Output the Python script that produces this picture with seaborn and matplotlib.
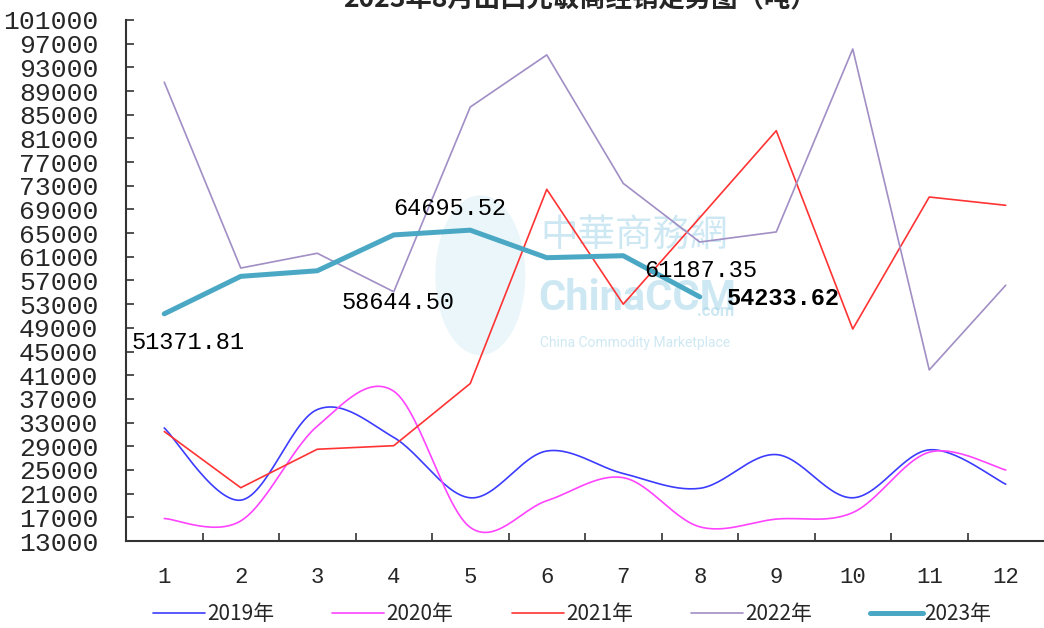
import numpy as np
import pandas as pd
import seaborn as sns
import matplotlib.pyplot as plt
from matplotlib.patches import Ellipse

months = list(range(1, 13))
y2019 = [32100, 19900, 35200, 30500, 20300, 28200, 24400, 21900, 27600, 20300, 28400, 22600]
y2020 = [16800, 16400, 32400, 38300, 15300, 19800, 23700, 15400, 16700, 17800, 28000, 25000]
y2021 = [31500, 22000, 28500, 29100, 39600, 72400, 53000, 67600, 82300, 48800, 71100, 69700]
y2022 = [90500, 59100, 61600, 55100, 86300, 95100, 73400, 63500, 65200, 96100, 41900, 56200]
months_2023 = [1, 2, 3, 4, 5, 6, 7, 8]
y2023 = [51371.81, 57700, 58644.50, 64695.52, 65500, 60850, 61187.35, 54233.62]

# which 2023 points carry a label, and the label offset (points)
label_idx = [0, 2, 3, 6, 7]
label_off = [(17, -21), (58, -23), (40, 19), (56, -11), (60, -1)]
label_bold = [False, False, False, False, True]

legend_names = ['2019年', '2020年', '2021年', '2022年', '2023年']
colors = ['#3c3cff', '#ff44ff', '#ff3333', '#a08ec4', '#4aa8c4']


def smooth(x, y, n=30):
    # excel-like smoothed line (catmull-rom through the points)
    x = np.asarray(x, float)
    y = np.asarray(y, float)
    px = np.concatenate([[x[0]], x, [x[-1]]])
    py = np.concatenate([[y[0]], y, [y[-1]]])
    xs, ys = [], []
    t = np.linspace(0, 1, n)
    for i in range(1, len(px) - 2):
        p0 = np.array([px[i], py[i]])
        p3 = np.array([px[i + 1], py[i + 1]])
        c1 = p0 + (np.array([px[i + 1], py[i + 1]]) - np.array([px[i - 1], py[i - 1]])) / 6
        c2 = p3 - (np.array([px[i + 2], py[i + 2]]) - np.array([px[i], py[i]])) / 6
        pts = ((1 - t) ** 3)[:, None] * p0 + (3 * (1 - t) ** 2 * t)[:, None] * c1 \
            + (3 * (1 - t) * t ** 2)[:, None] * c2 + (t ** 3)[:, None] * p3
        xs.extend(pts[:, 0])
        ys.extend(pts[:, 1])
    return xs, ys


sns.set_style('white')
plt.rcParams['font.family'] = ['Liberation Mono', 'Noto Sans CJK SC']

fig = plt.figure(figsize=(10.44, 6.28), dpi=100)
ax = fig.add_axes([0.1207, 0.1385, 0.8793, 0.8297])

# watermark (chinaccm logo)
ax.add_patch(Ellipse((0.386, 0.51), 0.098, 0.307, transform=ax.transAxes,
                     facecolor='#c6e6f2', edgecolor='none', alpha=0.35, zorder=0))
wm = '#9fd3e8'
ax.text(0.451, 0.587, '中華商務網', transform=ax.transAxes, fontsize=27, color=wm,
        alpha=0.5, ha='left', va='center', family='Noto Sans CJK SC', zorder=0)
ax.text(0.449, 0.466, 'ChinaCCM', transform=ax.transAxes, fontsize=30, color=wm,
        alpha=0.5, ha='left', va='center', family='Roboto', weight='bold', zorder=0)
ax.text(0.622, 0.44, '.com', transform=ax.transAxes, fontsize=12, color=wm,
        alpha=0.5, ha='left', va='center', family='Roboto', weight='bold', zorder=0)
ax.text(0.451, 0.38, 'China Commodity Marketplace', transform=ax.transAxes, fontsize=10,
        color=wm, alpha=0.5, ha='left', va='center', family='Roboto', zorder=0)

sx, sy = smooth(months, y2019)
sns.lineplot(x=sx, y=sy, ax=ax, color=colors[0], lw=1.2, estimator=None, sort=False, label=legend_names[0])
sx, sy = smooth(months, y2020)
sns.lineplot(x=sx, y=sy, ax=ax, color=colors[1], lw=1.2, estimator=None, sort=False, label=legend_names[1])
sns.lineplot(x=months, y=y2021, ax=ax, color=colors[2], lw=1.2, estimator=None, label=legend_names[2])
sns.lineplot(x=months, y=y2022, ax=ax, color=colors[3], lw=1.2, estimator=None, label=legend_names[3])
sns.lineplot(x=months_2023, y=y2023, ax=ax, color=colors[4], lw=3.6, estimator=None,
             label=legend_names[4], solid_capstyle='round')

for i, off, b in zip(label_idx, label_off, label_bold):
    ax.annotate(f'{y2023[i]:.2f}', (months_2023[i], y2023[i]), xytext=off,
                textcoords='offset points', ha='center', va='center', fontsize=17,
                weight='bold' if b else 'normal', color='black')

ax.set_xlim(0.5, 12.5)
ax.set_ylim(13000, 101000)
ax.set_yticks(range(13000, 101001, 4000))
ax.set_xticks(months)
ax.set_xticks([m + 0.5 for m in months[:-1]], minor=True)
ax.tick_params(axis='x', which='major', bottom=True, length=0, labelsize=16, pad=19)
ax.tick_params(axis='x', which='minor', bottom=True, length=6, direction='in', width=1.2, color='#333333')
ax.tick_params(axis='y', left=True, length=6, direction='in', width=1.2, color='#333333',
               labelsize=19, pad=20)
for s in ['top', 'right']:
    ax.spines[s].set_visible(False)
for s in ['left', 'bottom']:
    ax.spines[s].set_color('#333333')
    ax.spines[s].set_linewidth(1.5)
ax.set_xlabel('')
ax.set_ylabel('')

handles, labels = ax.get_legend_handles_labels()
ax.legend_.remove()
fig.legend(handles, labels, loc='lower center', bbox_to_anchor=(0.548, -0.025), ncol=5,
           frameon=False, handlelength=2.5, columnspacing=2.8, handletextpad=0.1,
           prop={'family': 'Noto Sans CJK SC', 'size': 15})

fig.text(0.555, 1.0, '2023年8月出口光敏商经销走势图（吨）', ha='center', va='center',
         fontsize=19, weight='bold', family='Noto Sans CJK SC')

fig.savefig('out.png', dpi=100)
